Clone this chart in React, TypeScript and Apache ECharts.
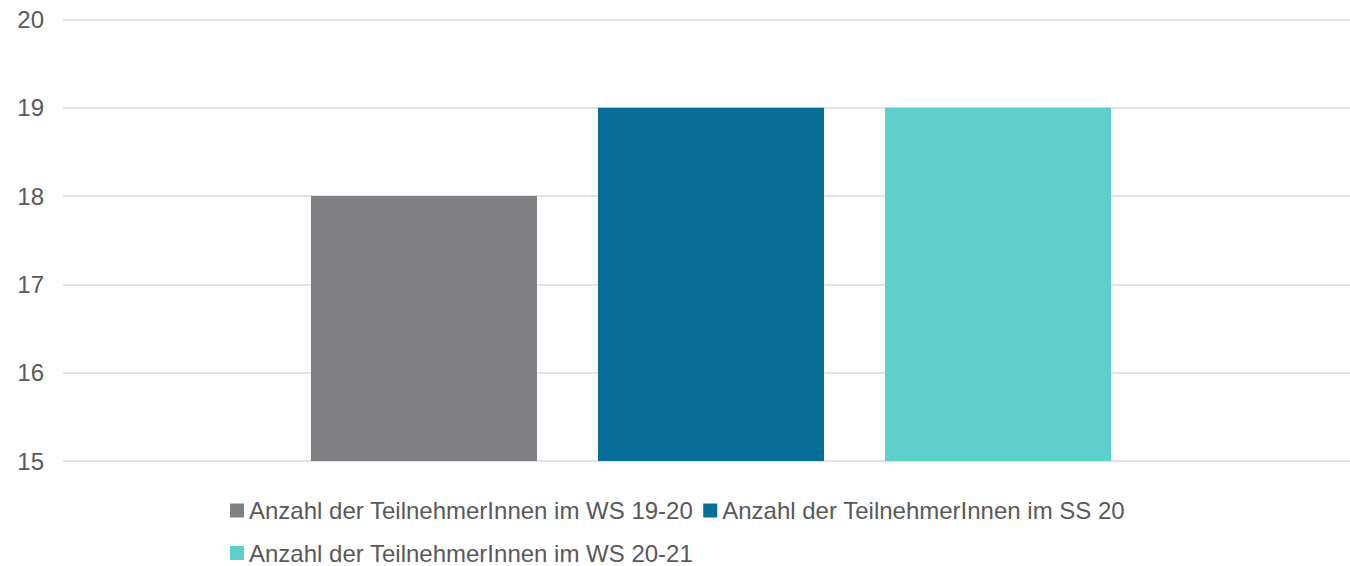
import React, { useEffect, useRef } from "react";
import * as echarts from "echarts";

const categories = ["Teilnehmer"];
const seriesNames = [
  "Anzahl der TeilnehmerInnen im WS 19-20",
  "Anzahl der TeilnehmerInnen im SS 20",
  "Anzahl der TeilnehmerInnen im WS 20-21",
];
const ws1920 = [18];
const ss20 = [19];
const ws2021 = [19];
const colors = ["#808084", "#066E98", "#5DD0CB"];

export default function App() {
  const ref = useRef<HTMLDivElement>(null);
  useEffect(() => {
    if (!ref.current) return;
    const chart = echarts.init(ref.current, null, { renderer: "svg" });
    const values = [ws1920, ss20, ws2021];
    const font = "Liberation Sans, Arial, sans-serif";
    const legendText = { fontFamily: font, fontSize: 24, color: "#595959" };
    chart.setOption({
      animation: false,
      textStyle: { fontFamily: font },
      grid: { left: 63, top: 19.5, right: -9, bottom: 105, containLabel: false, outerBoundsMode: "none" },
      legend: [
        {
          data: seriesNames.slice(0, 2),
          left: 230,
          top: 498.5,
          padding: 0,
          itemWidth: 14,
          itemHeight: 14,
          itemGap: 10,
          icon: "rect",
          textStyle: legendText,
        },
        {
          data: seriesNames.slice(2),
          left: 230,
          top: 541,
          padding: 0,
          itemWidth: 14,
          itemHeight: 14,
          itemGap: 10,
          icon: "rect",
          textStyle: legendText,
        },
      ],
      xAxis: {
        type: "category",
        data: categories,
        axisLine: { show: false },
        axisTick: { show: false },
        axisLabel: { show: false },
      },
      yAxis: {
        type: "value",
        min: 15,
        max: 20,
        interval: 1,
        axisLine: { show: false },
        axisTick: { show: false },
        axisLabel: { fontSize: 24, color: "#595959", margin: 19, fontFamily: font },
        splitLine: { lineStyle: { color: "#D9D9D9", width: 1.5 } },
      },
      series: seriesNames.map((name, i) => ({
        name,
        type: "bar",
        data: values[i],
        barWidth: 226,
        barGap: "27%",
        itemStyle: { color: colors[i] },
      })),
    });
    return () => chart.dispose();
  }, []);
  return <div ref={ref} style={{ width: 1350, height: 566, position: "absolute", left: 0, top: 0 }} />;
}
